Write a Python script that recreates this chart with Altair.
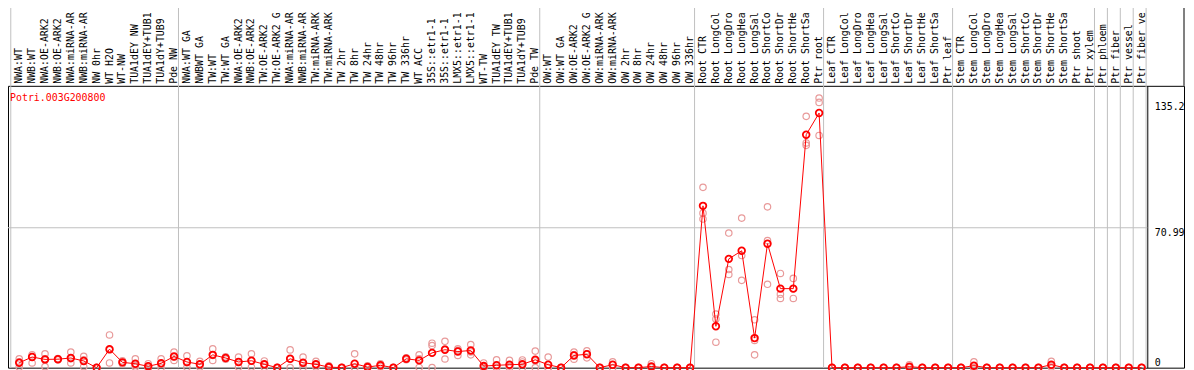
import altair as alt
import pandas as pd

gene = "Potri.003G200800"

categories = [
    "NWA:WT", "NWB:WT", "NWA:OE-ARK2", "NWB:OE-ARK2", "NWA:miRNA-ARK2", "NWB:miRNA-ARK2",
    "NW 0hr", "WT H2O", "WT-NW", "TUA1dEY NW", "TUA1dEY+TUB15 NW", "TUA1dY+TUB9 NW", "Pde NW",
    "NWA:WT GA", "NWBWT GA", "TW:WT", "TW:WT GA", "NWA:OE-ARK2 GA", "NWB:OE-ARK2 GA",
    "TW:OE-ARK2", "TW:OE-ARK2 GA", "NWA:miRNA-ARK2 GA", "NWB:miRNA-ARK2 GA", "TW:miRNA-ARK2",
    "TW:miRNA-ARK2", "TW 2hr", "TW 8hr", "TW 24hr", "TW 48hr", "TW 96hr", "TW 336hr", "WT ACC",
    "35S::etr1-1 H2O", "35S::etr1-1 ACC", "LMX5::etr1-1 H2O", "LMX5::etr1-1 ACC", "WT-TW",
    "TUA1dEY TW", "TUA1dEY+TUB15 TW", "TUA1dY+TUB9 TW", "Pde TW",
    "OW:WT", "OW:WT GA", "OW:OE-ARK2", "OW:OE-ARK2 GA", "OW:miRNA-ARK2", "OW:miRNA-ARK2",
    "OW 2hr", "OW 8hr", "OW 24hr", "OW 48hr", "OW 96hr", "OW 336hr",
    "Root CTR", "Root LongCold", "Root LongDrought", "Root LongHeat", "Root LongSalt",
    "Root ShortCold", "Root ShortDrought", "Root ShortHeat", "Root ShortSalt", "Ptr root",
    "Leaf CTR", "Leaf LongCold", "Leaf LongDrought", "Leaf LongHeat", "Leaf LongSalt",
    "Leaf ShortCold", "Leaf ShortDrought", "Leaf ShortHeat", "Leaf ShortSalt", "Ptr leaf",
    "Stem CTR", "Stem LongCold", "Stem LongDrought", "Stem LongHeat", "Stem LongSalt",
    "Stem ShortCold", "Stem ShortDrought", "Stem ShortHeat", "Stem ShortSalt", "Ptr shoot",
    "Ptr xylem", "Ptr phloem", "Ptr fiber", "Ptr vessel", "Ptr fiber vessel",
]

means = [
    2.5, 5.4, 4.2, 4.3, 4.9, 3.4, 0.0, 9.4, 2.7, 2.0, 0.7, 2.2, 5.7,
    2.9, 1.7, 6.5, 4.9, 2.9, 3.5, 1.7, 0.0, 4.5, 2.5, 1.7, 0.3, 0.0, 2.0, 0.3, 1.2, 0.0,
    4.5, 3.7, 7.5, 9.1, 8.2, 8.7, 0.8, 1.2, 1.5, 1.7, 4.0,
    1.5, 0.0, 6.2, 6.8, 0.0, 1.5, 0.0, 0.0, 0.6, 0.0, 0.0, 0.0,
    82.1, 21.0, 55.2, 59.3, 15.0, 62.9, 40.1, 40.1, 118.2, 129.2,
    0.0, 0.0, 0.0, 0.0, 0.0, 0.0, 0.5, 0.0, 0.0, 0.0,
    0.0, 1.0, 0.0, 0.0, 0.0, 0.0, 0.0, 1.5, 0.0, 0.0, 0.0,
    0.0, 0.0, 0.0, 0.0,
]

replicates = [
    [4.5, 3.0, 0.3], [6.5, 5.5, 2.4], [7.0, 4.5, 0.5], [4.6, 4.3, 4.0], [7.9, 4.5, 2.4],
    [5.7, 4.0, 0.5], [0, 0, 0], [16.6, 9.0, 2.4], [3.5, 2.7, 2.0], [4.5, 1.2, 0.3],
    [2.0, 0, 0], [4.5, 2.0, 0.1], [7.9, 5.5, 3.7],
    [6.0, 2.5, 0.2], [3.2, 1.5, 0.4], [9.6, 6.2, 3.7], [5.5, 4.9, 4.3], [5.4, 3.0, 0.3],
    [7.0, 3.5, 0.3], [3.4, 1.5, 0.2], [0, 0, 0], [9.0, 4.5, 0.0], [5.4, 2.0, 0.1],
    [3.2, 1.5, 0.4], [0.9, 0, 0], [0, 0, 0], [7.0, 0, 0], [0.9, 0, 0], [1.9, 1.2, 0.5],
    [0, 0, 0], [5.0, 4.5, 4.0], [6.5, 4.5, 0.1], [12.4, 11.2, 0.0], [13.4, 9.5, 4.4],
    [9.6, 8.8, 6.2], [11.7, 8.0, 6.5], [2.4, 0, 0], [4.0, 0, 0], [3.7, 0.8, 0],
    [3.9, 2.9, 0], [8.4, 3.5, 0],
    [5.4, 0, 0], [0, 0, 0], [7.9, 6.5, 4.3], [8.5, 7.0, 5.0], [0, 0, 0], [3.0, 1.5, 0],
    [0, 0, 0], [0, 0, 0], [2.0, 0, 0], [0, 0, 0], [0, 0, 0], [0, 0, 0],
    [91.5, 78.4, 75.4], [27.2, 24.7, 12.9], [68.3, 49.8, 47.3], [75.9, 56.9, 44.3],
    [24.3, 13.8, 6.5], [81.6, 64.5, 42.3], [47.8, 37.3, 35.1], [45.3, 40.1, 35.1],
    [127.5, 114.0, 112.8], [136.8, 134.6, 117.8],
    [0, 0, 0], [0, 0, 0], [0, 0, 0], [0, 0, 0], [0, 0, 0], [0, 0, 0], [1.5, 0, 0],
    [0, 0, 0], [0, 0, 0], [0, 0, 0],
    [0, 0, 0], [3.0, 0, 0], [0, 0, 0], [0, 0, 0], [0, 0, 0], [0, 0, 0], [0, 0, 0],
    [3.2, 1.0, 0.3], [0, 0, 0], [0, 0, 0], [0, 0, 0],
    [0, 0, 0], [0, 0, 0], [0, 0, 0], [0, 0, 0],
]

y_ticks = [0, 70.99, 135.2]
grid_values = [70.99]
group_starts = [0, 13, 41, 53, 63, 73, 84, 85, 86, 87, 88]

cat_df = pd.DataFrame({"idx": list(range(len(categories))), "cat": categories})
mean_df = pd.DataFrame({"idx": list(range(len(categories))), "value": means})
rep_df = pd.DataFrame(
    [{"idx": i, "value": v} for i, vals in enumerate(replicates) for v in vals]
)
group_df = pd.DataFrame({"idx": group_starts})
grid_df = pd.DataFrame({"value": grid_values})
title_df = pd.DataFrame({"gene": [gene]})

W, H = 1185, 284
TOP = 77
FONT = "DejaVu Sans Mono"

xscale = alt.Scale(domain=[0, len(categories) - 1], range=[11.3, 1142.3], nice=False, zero=False)
yscale = alt.Scale(domain=[0, 143], nice=False, zero=True)

yaxis = alt.Axis(
    orient="right", offset=-37, values=y_ticks,
    labelExpr="'' + datum.value",
    labelFont=FONT, labelFontSize=10, labelColor="black", labelAlign="left",
    labelBaseline={"condition": {"test": "datum.value === 0", "value": "bottom"}, "value": "top"},
    labelPadding=7, labelFlush=False, labelOverlap=False,
    ticks=False, domain=True, domainColor="black", domainWidth=1, grid=False, title=None,
    minExtent=0, maxExtent=0,
)

X = alt.X("idx:Q", scale=xscale, axis=None)
Y = alt.Y("value:Q", scale=yscale, axis=yaxis)

groups = alt.Chart(group_df).mark_rule(color="#c0c0c0", strokeWidth=1, xOffset=-8.5).encode(
    x=X, y=alt.value(-TOP - 5), y2=alt.value(H)
)
frame_right = alt.Chart(title_df).mark_rule(color="black", strokeWidth=1).encode(
    x=alt.value(W), y=alt.value(-TOP - 5), y2=alt.value(0)
)
labels = alt.Chart(cat_df).mark_text(
    font=FONT, fontSize=10, color="black", angle=270, align="left", baseline="middle",
    limit=75, ellipsis="\u200b",
).encode(x=X, y=alt.value(-2), text="cat:N")
grid = alt.Chart(grid_df).mark_rule(color="#c0c0c0", strokeWidth=1).encode(
    y=Y, x=alt.value(0), x2=alt.value(1148)
)
reps = alt.Chart(rep_df).mark_point(
    shape="circle", filled=False, color="#e89a9a", strokeWidth=1.2, size=42, opacity=1
).encode(x=X, y=Y)
line = alt.Chart(mean_df).mark_line(color="#ff0000", strokeWidth=1).encode(x=X, y=Y)
pts = alt.Chart(mean_df).mark_point(
    shape="circle", filled=False, color="#ff0000", strokeWidth=1.8, size=45, opacity=1
).encode(x=X, y=Y)
title = alt.Chart(title_df).mark_text(
    font=FONT, fontSize=10, color="#ff0000", align="left", baseline="middle"
).encode(x=alt.value(2), y=alt.value(12), text="gene:N")

chart = (
    alt.layer(groups, frame_right, labels, grid, reps, line, pts, title)
    .properties(
        width=W, height=H,
        autosize=alt.AutoSizeParams(type="none"),
        padding={"top": TOP, "left": 0, "right": 2, "bottom": 10},
    )
    .configure_view(stroke="black", strokeWidth=1)
)

chart.save("out.html", embed_options={"renderer": "svg", "actions": False})
